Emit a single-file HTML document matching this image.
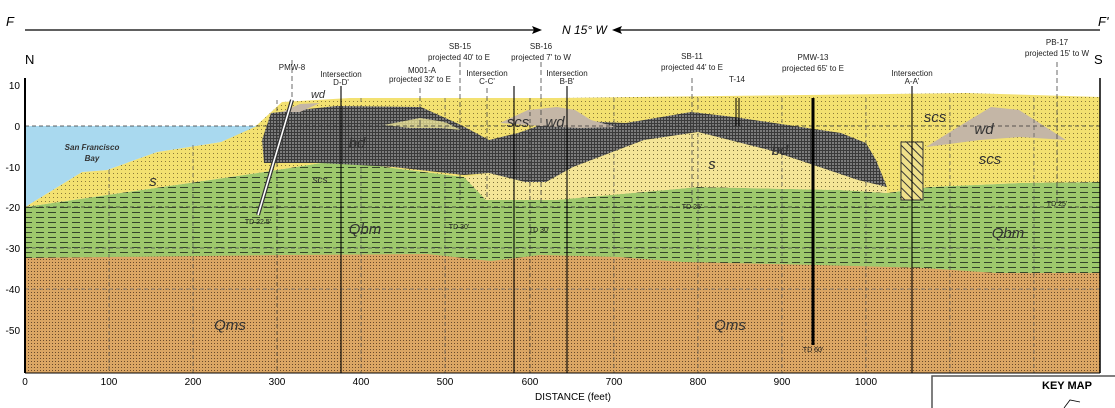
<!DOCTYPE html>
<html><head><meta charset="utf-8"><style>
html,body{margin:0;padding:0;background:#fff;width:1115px;height:408px;overflow:hidden}
svg{display:block;font-family:"Liberation Sans",sans-serif}
</style></head><body>
<svg width="1115" height="408" viewBox="0 0 1115 408" xmlns="http://www.w3.org/2000/svg">
<defs>
<pattern id="dots" width="4" height="4" patternUnits="userSpaceOnUse"><rect width="4" height="4" fill="#f3e171"/><rect x="1" y="1" width="1" height="1" fill="#8a7a3a"/></pattern>
<pattern id="sand" width="4" height="4" patternUnits="userSpaceOnUse"><rect width="4" height="4" fill="#f4e597"/><rect x="1" y="2" width="1" height="1" fill="#7a6e3a"/></pattern>
<pattern id="tan" width="3" height="3" patternUnits="userSpaceOnUse"><rect width="3" height="3" fill="#dba664"/><rect x="1" y="1" width="1" height="1" fill="#6a4a2a"/></pattern>
<pattern id="green" width="12" height="5" patternUnits="userSpaceOnUse"><rect width="12" height="5" fill="#9ec86c"/><rect x="0" y="2" width="8" height="1" fill="#34452a"/></pattern>
<pattern id="grid" width="3" height="3" patternUnits="userSpaceOnUse"><rect width="3" height="3" fill="#7c7c7c"/><rect width="3" height="1" fill="#3a3a3a"/><rect width="1" height="3" fill="#3a3a3a"/></pattern>
<pattern id="hatch" width="6" height="6" patternUnits="userSpaceOnUse" patternTransform="rotate(-45)"><rect width="6" height="6" fill="#efe08a"/><rect width="1" height="6" fill="#333"/></pattern>
</defs>
<text x="6" y="26" font-size="13" font-style="italic">F</text>
<line x1="25" y1="30" x2="535" y2="30" stroke="#000" stroke-width="1.2"/>
<polygon points="542,30 532,26 534,30 532,34" fill="#000"/>
<text x="562" y="34" font-size="12" font-style="italic">N 15° W</text>
<polygon points="612,30 622,26 620,30 622,34" fill="#000"/>
<line x1="618" y1="30" x2="1100" y2="30" stroke="#000" stroke-width="1.2"/>
<text x="1098" y="26" font-size="13" font-style="italic">F'</text>
<text x="25" y="64" font-size="13">N</text>
<text x="1094" y="64" font-size="13">S</text>
<rect x="25" y="78" width="1075" height="295" fill="#fff"/>
<rect x="25" y="240" width="1075" height="133" fill="url(#tan)"/>
<polygon fill="url(#tan)" points="25,258 284,255 427,254 491,261 540,255 619,257 683,262 818,265 925,268 996,273 1100,273 1100,373 25,373"/>
<polygon fill="url(#green)" points="25,207 107,195 264,172 321,163 357,163 393,168 464,177 486,200 555,200 698,187 841,190 887,193 930,187 1019,183 1100,182 1100,273 996,273 925,268 818,265 683,262 619,257 540,255 491,261 427,254 284,255 25,258"/>
<polygon fill="url(#dots)" points="25,207 82,172 107,170 157,152 221,142 257,125 282,102 350,98 464,98 557,98 805,95 966,93 1100,97 1100,182 1019,183 930,187 887,193 841,190 698,187 555,200 486,200 464,177 393,168 357,163 321,163 264,172 107,195"/>
<polygon fill="url(#sand)" points="486,200 464,177 489,173 525,182 546,182 573,167 644,140 698,132 769,150 858,180 887,187 887,193 841,190 698,187 555,200"/>
<polygon fill="#a9d9ef" points="25,126 257,126 221,142 157,152 107,170 82,172 25,207"/>
<polygon fill="url(#grid)" points="271,113 336,106 421,107 461,125 489,140 518,133 555,120 626,123 691,112 734,117 841,133 866,143 876,160 887,187 858,180 769,150 698,132 644,140 573,167 546,182 525,182 489,173 464,175 393,167 321,163 264,163 262,140"/>
<polygon fill="#fff6a0" opacity="0.7" points="384,125 420,118 445,122 461,130 440,128 410,128"/>
<polygon fill="#c4b6a6" points="282,112 300,104 320,103 300,112"/>
<polygon fill="#c4b6a6" points="500,123 528,110 557,107 575,110 591,120 616,127 580,128 540,126"/>
<polygon fill="#c4b6a6" points="926,147 958,127 991,107 1019,110 1066,140 1020,137 980,140"/>
<rect x="901" y="142" width="22" height="58" fill="url(#hatch)" stroke="#333" stroke-width="1"/>
<g stroke="#333" stroke-width="0.7" stroke-dasharray="4,3" fill="none">
<line x1="25" y1="126" x2="1100" y2="126"/>
<line x1="25" y1="207" x2="1100" y2="207"/>
<line x1="25" y1="248" x2="1100" y2="248" stroke="#555"/>
<line x1="25" y1="289" x2="1100" y2="289" stroke="#777"/>
<line x1="109" y1="170" x2="109" y2="373" stroke="#555"/>
<line x1="193" y1="145" x2="193" y2="373" stroke="#555"/>
<line x1="277" y1="100" x2="277" y2="373"/>
<line x1="361" y1="98" x2="361" y2="373" stroke="#555"/>
<line x1="445" y1="98" x2="445" y2="373" stroke="#555"/>
<line x1="530" y1="98" x2="530" y2="373"/>
<line x1="614" y1="98" x2="614" y2="373" stroke="#555"/>
<line x1="698" y1="98" x2="698" y2="373" stroke="#555"/>
<line x1="782" y1="98" x2="782" y2="373" stroke="#555"/>
<line x1="866" y1="98" x2="866" y2="373" stroke="#555"/>
<line x1="950" y1="98" x2="950" y2="373" stroke="#555"/>
<line x1="1034" y1="98" x2="1034" y2="373" stroke="#555"/>
</g>
<g stroke="#444" stroke-width="0.8" stroke-dasharray="5,3" fill="none">
<line x1="292" y1="60" x2="292" y2="100"/><line x1="420" y1="88" x2="420" y2="170"/>
<line x1="460" y1="62" x2="460" y2="200"/><line x1="487" y1="88" x2="487" y2="200"/>
<line x1="541" y1="62" x2="541" y2="205"/><line x1="692" y1="78" x2="692" y2="205"/>
<line x1="1057" y1="62" x2="1057" y2="205"/>
</g>
<g stroke="#000" stroke-width="1.1">
<line x1="341" y1="86" x2="341" y2="373"/><line x1="514" y1="86" x2="514" y2="373"/>
<line x1="567" y1="86" x2="567" y2="373"/><line x1="912" y1="86" x2="912" y2="373"/>
<line x1="813" y1="98" x2="813" y2="345" stroke-width="3"/>
<line x1="736" y1="98" x2="736" y2="126" stroke-width="1"/><line x1="739" y1="98" x2="739" y2="126" stroke-width="1"/>
</g>
<line x1="292" y1="100" x2="258" y2="215" stroke="#333" stroke-width="4"/>
<line x1="292" y1="100" x2="258" y2="215" stroke="#fff" stroke-width="1.6"/>
<line x1="25" y1="78" x2="25" y2="373" stroke="#000" stroke-width="2"/>
<line x1="1100" y1="78" x2="1100" y2="373" stroke="#000" stroke-width="1.5"/>
<line x1="25" y1="373" x2="1100" y2="373" stroke="#000" stroke-width="1"/>
<g font-size="10" text-anchor="end">
<text x="20" y="89">10</text><text x="20" y="130">0</text><text x="20" y="171">-10</text><text x="20" y="211">-20</text>
<text x="20" y="252">-30</text><text x="20" y="293">-40</text><text x="20" y="334">-50</text>
</g>
<g font-size="10" text-anchor="middle">
<text x="25" y="385">0</text><text x="109" y="385">100</text><text x="193" y="385">200</text><text x="277" y="385">300</text>
<text x="361" y="385">400</text><text x="445" y="385">500</text><text x="530" y="385">600</text><text x="614" y="385">700</text>
<text x="698" y="385">800</text><text x="782" y="385">900</text><text x="866" y="385">1000</text>
<text x="573" y="400">DISTANCE (feet)</text>
</g>
<g font-size="8" text-anchor="middle" fill="#222">
<text x="292" y="70">PMW-8</text>
<text x="341" y="77">Intersection</text><text x="341" y="85">D-D'</text>
<text x="422" y="73">M001-A</text><text x="420" y="82">projected 32' to E</text>
<text x="460" y="49">SB-15</text><text x="459" y="60">projected 40' to E</text>
<text x="487" y="76">Intersection</text><text x="487" y="84">C-C'</text>
<text x="541" y="49">SB-16</text><text x="541" y="60">projected 7' to W</text>
<text x="567" y="76">Intersection</text><text x="567" y="84">B-B'</text>
<text x="692" y="59">SB-11</text><text x="692" y="70">projected 44' to E</text>
<text x="737" y="82">T-14</text>
<text x="813" y="60">PMW-13</text><text x="813" y="71">projected 65' to E</text>
<text x="912" y="76">Intersection</text><text x="912" y="84">A-A'</text>
<text x="1057" y="45">PB-17</text><text x="1057" y="56">projected 15' to W</text>
<text x="92" y="150" font-weight="bold" font-style="italic" fill="#333">San Francisco</text>
<text x="92" y="161" font-weight="bold" font-style="italic" fill="#333">Bay</text>
</g>
<g font-size="15" font-style="italic" fill="#333" text-anchor="middle">
<text x="153" y="186">s</text><text x="357" y="148">bd</text><text x="518" y="127">scs</text>
<text x="555" y="127">wd</text><text x="712" y="169">s</text><text x="780" y="155">bd</text>
<text x="935" y="122">scs</text><text x="984" y="134">wd</text><text x="990" y="164">scs</text>
<text x="365" y="234">Qbm</text><text x="1008" y="238">Qbm</text>
<text x="230" y="330">Qms</text><text x="730" y="330">Qms</text>
<text x="318" y="98" font-size="11">wd</text><text x="320" y="183" font-size="10">scs</text>
</g>
<g font-size="7" fill="#222" text-anchor="middle">
<text x="258" y="224">TD 22.5'</text><text x="459" y="229">TD 30'</text><text x="539" y="232">TD 30'</text>
<text x="692" y="209">TD 25'</text><text x="813" y="352">TD 60'</text><text x="1057" y="206">TD 25'</text>
</g>
<rect x="932" y="376" width="190" height="40" fill="#fff" stroke="#555" stroke-width="1.5"/>
<text x="1042" y="389" font-size="11" font-weight="bold">KEY MAP</text>
<path d="M1064,408 L1070,400 L1080,402" stroke="#000" fill="none" stroke-width="0.8"/>
</svg>
</body></html>
